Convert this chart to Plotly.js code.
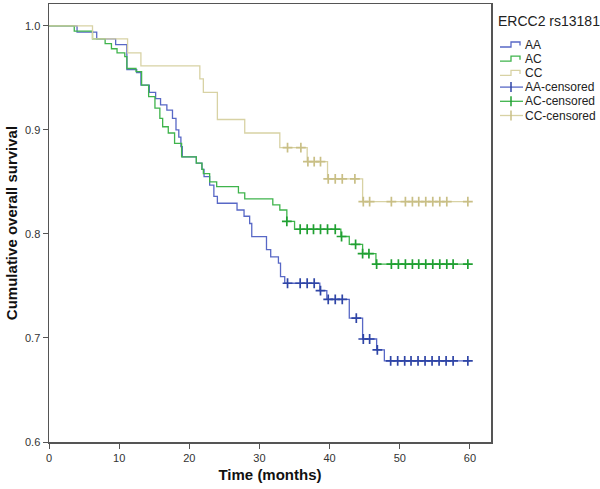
<!DOCTYPE html>
<html>
<head>
<meta charset="utf-8">
<script src="https://cdn.plot.ly/plotly-3.0.1.min.js"></script>
<style>html,body{margin:0;padding:0;background:#fff;}#chart{width:600px;height:489px;}</style>
</head>
<body>
<div id="chart"></div>
<script>
// AA genotype: event times (months) and survival after each step
const aaTimes = [0, 4.0, 6.8, 9.5, 11.1, 12.5, 13.1, 14.3, 15.2, 15.9, 16.8, 17.6, 18.1, 18.5, 18.8, 19.0, 21.0, 21.8, 22.1, 22.9, 23.5, 24.0, 26.8, 27.8, 28.6, 28.9, 31.0, 31.6, 32.7, 33.0, 33.6, 38.6, 39.6, 42.8, 44.7, 46.7, 47.8, 60];
const aaSurv  = [1.0, 0.994, 0.9875, 0.982, 0.958, 0.955, 0.943, 0.936, 0.930, 0.924, 0.919, 0.911, 0.900, 0.893, 0.884, 0.874, 0.868, 0.862, 0.855, 0.847, 0.836, 0.8295, 0.823, 0.817, 0.810, 0.7974, 0.785, 0.778, 0.772, 0.759, 0.7526, 0.7455, 0.737, 0.719, 0.699, 0.6885, 0.678, 0.678];
const aaCens  = [34.0, 35.8, 36.8, 37.8, 38.7, 39.8, 40.8, 41.8, 43.8, 44.8, 45.7, 46.8, 48.7, 49.7, 50.7, 51.6, 52.6, 53.6, 54.6, 55.6, 56.6, 57.6, 59.7];

// AC genotype
const acTimes = [0, 3.6, 6.2, 8.0, 8.9, 9.7, 10.8, 11.1, 12.4, 13.2, 14.2, 15.1, 15.8, 16.2, 17.0, 17.9, 18.9, 21.0, 21.8, 22.0, 22.9, 23.9, 27.0, 27.9, 31.9, 32.9, 33.9, 35.0, 41.6, 42.8, 44.7, 46.6, 60];
const acSurv  = [1.0, 0.995, 0.9875, 0.983, 0.978, 0.974, 0.9705, 0.959, 0.956, 0.943, 0.932, 0.921, 0.911, 0.903, 0.897, 0.887, 0.874, 0.868, 0.862, 0.858, 0.850, 0.8455, 0.8395, 0.8337, 0.828, 0.823, 0.812, 0.8045, 0.7975, 0.790, 0.781, 0.771, 0.771];
const acCens  = [33.9, 35.8, 36.8, 37.7, 38.7, 39.7, 40.8, 41.7, 43.7, 44.7, 45.6, 46.7, 48.8, 49.8, 50.8, 51.8, 52.7, 53.7, 54.7, 55.7, 56.7, 57.6, 59.7];

// CC genotype
const ccTimes = [0, 6.2, 11.2, 13.1, 21.5, 22.0, 24.0, 27.9, 32.9, 36.8, 39.7, 44.7, 60];
const ccSurv  = [1.0, 0.9875, 0.974, 0.9615, 0.949, 0.936, 0.910, 0.897, 0.883, 0.8695, 0.853, 0.831, 0.831];
const ccCens  = [34.0, 35.9, 36.9, 37.8, 38.7, 39.8, 40.8, 41.8, 43.6, 44.8, 45.7, 48.8, 50.8, 51.8, 52.7, 53.7, 54.7, 55.7, 56.7, 59.7];

const groupNames = ['AA', 'AC', 'CC'];
const legendTitle = 'ERCC2 rs13181';
const xTicks = [0, 10, 20, 30, 40, 50, 60];
const yTicks = [0.6, 0.7, 0.8, 0.9, 1.0];

function stepAt(times, surv, t) {
  let v = surv[0];
  for (let i = 0; i < times.length; i++) { if (times[i] <= t + 1e-9) v = surv[i]; }
  return v;
}

const lineColors = ['#5868c6', '#3fb44c', '#d8d2a4'];
const censColors = ['#2f45a6', '#20a032', '#c9bf86'];
const series = [[aaTimes, aaSurv, aaCens], [acTimes, acSurv, acCens], [ccTimes, ccSurv, ccCens]];

const traces = [];
series.forEach((s, i) => {
  traces.push({
    x: s[0], y: s[1], type: 'scatter', mode: 'lines', name: groupNames[i], showlegend: false,
    line: {shape: 'hv', color: lineColors[i], width: 1.3}
  });
});
series.forEach((s, i) => {
  traces.push({
    x: s[2], y: s[2].map(t => stepAt(s[0], s[1], t)), type: 'scatter', mode: 'markers',
    name: groupNames[i] + '-censored', showlegend: false,
    marker: {symbol: 'cross-thin', size: 7, line: {color: censColors[i], width: 1.7}, color: censColors[i]}
  });
});

// Custom legend (SPSS style) placed in paper coordinates
const M = {l: 49, r: 109, t: 4, b: 47};
const W = 600, H = 489;
const pw = W - M.l - M.r, ph = H - M.t - M.b;
const px = v => (v - M.l) / pw;
const py = v => (H - M.b - v) / ph;

const annotations = [{
  text: legendTitle, xref: 'paper', yref: 'paper', x: px(496), y: py(21),
  xanchor: 'left', yanchor: 'middle', showarrow: false,
  font: {size: 14, color: '#222'}
}];
const shapes = [];
const itemNames = groupNames.concat(groupNames.map(g => g + '-censored'));
itemNames.forEach((name, k) => {
  const yc = 44.5 + k * 14.2;
  annotations.push({
    text: name, xref: 'paper', yref: 'paper', x: px(523), y: py(yc),
    xanchor: 'left', yanchor: 'middle', showarrow: false,
    font: {size: 12, color: '#222'}
  });
  if (k < 3) {
    const c = lineColors[k];
    shapes.push({
      type: 'path', xref: 'paper', yref: 'paper',
      path: `M ${px(500)} ${py(yc + 2.5)} L ${px(511)} ${py(yc + 2.5)} L ${px(511)} ${py(yc - 2.5)} L ${px(520)} ${py(yc - 2.5)} L ${px(520)} ${py(yc + 1)}`,
      line: {color: c, width: 1.3}
    });
  } else {
    const c = censColors[k - 3];
    shapes.push({type: 'line', xref: 'paper', yref: 'paper', x0: px(500), x1: px(523), y0: py(yc), y1: py(yc), line: {color: lineColors[k - 3], width: 1.3}});
    shapes.push({type: 'line', xref: 'paper', yref: 'paper', x0: px(511), x1: px(511), y0: py(yc - 5), y1: py(yc + 5), line: {color: c, width: 1.5}});
  }
});

const layout = {
  width: W, height: H,
  margin: M,
  paper_bgcolor: '#fff', plot_bgcolor: '#fff',
  font: {family: 'Liberation Sans, Arial, sans-serif', color: '#333'},
  showlegend: false,
  annotations: annotations,
  shapes: shapes,
  xaxis: {
    range: [0, 63], tickvals: xTicks, ticktext: xTicks.map(String),
    showgrid: false, zeroline: false, showline: true, mirror: true,
    linecolor: '#555', linewidth: 1.5, ticks: 'outside', ticklen: 5, tickcolor: '#555',
    tickfont: {size: 11, color: '#333'},
    title: {text: '<b>Time (months)</b>', font: {size: 15, color: '#111'}, standoff: 7}
  },
  yaxis: {
    range: [0.6, 1.021], tickvals: yTicks, ticktext: yTicks.map(v => v.toFixed(1)),
    showgrid: false, zeroline: false, showline: true, mirror: true,
    linecolor: '#555', linewidth: 1.5, ticks: 'outside', ticklen: 5, tickcolor: '#555',
    tickfont: {size: 11, color: '#333'},
    title: {text: '<b>Cumulative overall survival</b>', font: {size: 15, color: '#111'}, standoff: 4}
  }
};

Plotly.newPlot('chart', traces, layout, {displayModeBar: false, staticPlot: true});
</script>
</body>
</html>
